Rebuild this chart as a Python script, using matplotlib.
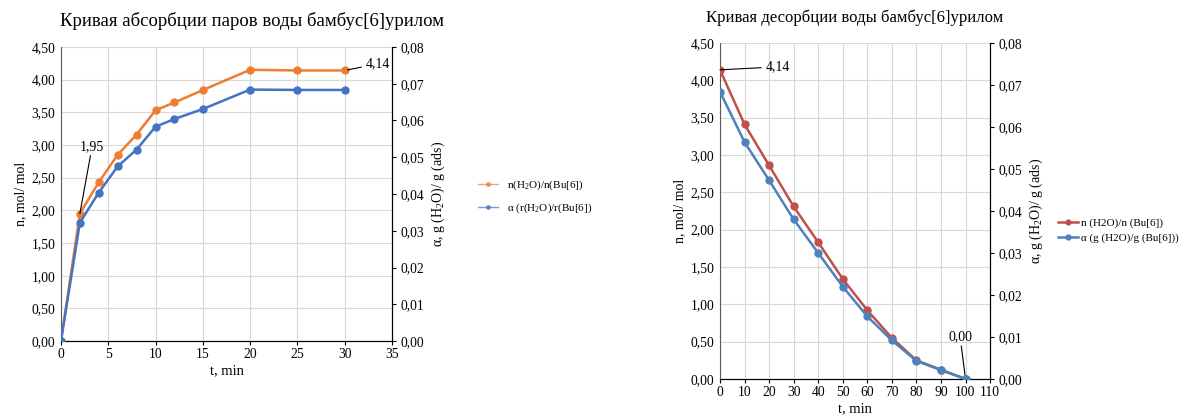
import matplotlib.pyplot as plt
from matplotlib.ticker import FuncFormatter, MultipleLocator

plt.rcParams['font.family'] = ['Liberation Serif', 'DejaVu Serif']
plt.rcParams['mathtext.fontset'] = 'custom'
plt.rcParams['mathtext.rm'] = 'Liberation Serif'
plt.rcParams['mathtext.it'] = 'Liberation Serif:italic'

# absorption
t_abs = [0, 2, 4, 6, 8, 10, 12, 15, 20, 25, 30]
n_abs = [0.00, 1.95, 2.43, 2.85, 3.16, 3.53, 3.65, 3.84, 4.15, 4.14, 4.14]
a_abs = [0.0000, 0.0322, 0.0404, 0.0475, 0.0521, 0.0583, 0.0604, 0.0631, 0.0684, 0.0683, 0.0683]

# desorption
t_des = [0, 10, 20, 30, 40, 50, 60, 70, 80, 90, 100]
n_des = [4.14, 3.41, 2.86, 2.31, 1.83, 1.34, 0.92, 0.55, 0.25, 0.125, 0.00]
a_des = [0.0684, 0.0564, 0.0473, 0.0380, 0.0300, 0.0220, 0.0149, 0.0092, 0.0043, 0.0021, 0.0000]

ORANGE = '#ED7D31'
BLUE1 = '#4472C4'
RED = '#C0504D'
BLUE2 = '#4F81BD'
GRID = '#d9d9d9'
TICK = 9.8

comma = lambda d: FuncFormatter(lambda v, p: f'{v:.{d}f}'.replace('.', ','))

fig = plt.figure(figsize=(11.95, 4.19), dpi=100)


def setup(ax, ax2, xmax, xstep):
    ax.set_ylim(0, 4.5)
    ax.set_xlim(0, xmax)
    ax.yaxis.set_major_locator(MultipleLocator(0.5))
    ax.xaxis.set_major_locator(MultipleLocator(xstep))
    ax.yaxis.set_major_formatter(comma(2))
    ax.grid(True, color=GRID, lw=0.8)
    ax.set_axisbelow(True)
    ax.spines['top'].set_visible(False)
    ax2.spines['top'].set_visible(False)
    ax.spines['left'].set_color('#595959')
    ax2.spines['left'].set_visible(False)
    ax.tick_params(axis='y', length=0, labelsize=TICK, pad=4)
    ax.tick_params(axis='x', length=3, labelsize=TICK, pad=2)
    ax2.set_ylim(0, 0.08)
    ax2.yaxis.set_major_locator(MultipleLocator(0.01))
    ax2.yaxis.set_major_formatter(comma(2))
    ax2.tick_params(axis='y', length=3, labelsize=TICK, pad=3)
    ax.set_xlabel('t, min', fontsize=10.5, labelpad=2)
    ax.set_ylabel('n, mol/ mol', fontsize=10, labelpad=3)
    ax2.set_ylabel(r'α, g (H$_2$O)/ g (ads)', fontsize=10, labelpad=4)


# left chart
ax = fig.add_axes([0.051, 0.186, 0.277, 0.702])
ax2 = ax.twinx()
setup(ax, ax2, 35, 5)
l1, = ax.plot(t_abs, n_abs, color=ORANGE, lw=1.8, marker='o', ms=5, zorder=3)
l2, = ax2.plot(t_abs, a_abs, color=BLUE1, lw=1.8, marker='o', ms=5, zorder=3)
ax.set_title('Кривая абсорбции паров воды бамбус[6]урилом', fontsize=13.5, pad=15,
             loc='left', x=-0.003)
ax.annotate('1,95', xy=(2, 1.95), xytext=(3.3, 2.88), fontsize=10,
            ha='center', va='bottom',
            arrowprops=dict(arrowstyle='-', color='black', lw=0.8, shrinkA=0, shrinkB=0))
ax.annotate('4,14', xy=(30, 4.14), xytext=(32.2, 4.24), fontsize=10,
            ha='left', va='center', annotation_clip=False,
            arrowprops=dict(arrowstyle='-', color='black', lw=0.8, shrinkA=1, shrinkB=2))
leg = fig.legend([l1, l2], [r'n(H$_2$O)/n(Bu[6])', r'α (r(H$_2$O)/r(Bu[6])'],
                 loc='center left', bbox_to_anchor=(0.392, 0.53), frameon=False,
                 fontsize=8, handlelength=1.8, markerscale=0.5, labelspacing=0.8)
for h in leg.legend_handles:
    h.set_linewidth(1.0)
    h.set_alpha(0.7)

# right chart
bx = fig.add_axes([0.6025, 0.0955, 0.226, 0.802])
bx2 = bx.twinx()
setup(bx, bx2, 110, 10)
m1, = bx.plot(t_des, n_des, color=RED, lw=1.8, marker='o', ms=5, zorder=3)
m2, = bx2.plot(t_des, a_des, color=BLUE2, lw=1.8, marker='o', ms=5, zorder=3)
bx.set_title('Кривая десорбции воды бамбус[6]урилом', fontsize=12, pad=15)
bx.annotate('4,14', xy=(0, 4.14), xytext=(18.5, 4.18), fontsize=10,
            ha='left', va='center',
            arrowprops=dict(arrowstyle='-', color='black', lw=0.8, shrinkA=1, shrinkB=0))
bx.annotate('0,00', xy=(100, 0), xytext=(97.8, 0.48), fontsize=10,
            ha='center', va='bottom', annotation_clip=False,
            arrowprops=dict(arrowstyle='-', color='black', lw=0.8, shrinkA=0, shrinkB=0))
fig.legend([m1, m2], ['n (H2O)/n (Bu[6])', 'α (g (H2O)/g (Bu[6]))'],
           loc='center left', bbox_to_anchor=(0.877, 0.45), frameon=False,
           fontsize=8, handlelength=1.8, markerscale=0.7, labelspacing=0.5,
           handletextpad=0.3)

fig.savefig('out.png', dpi=100)
